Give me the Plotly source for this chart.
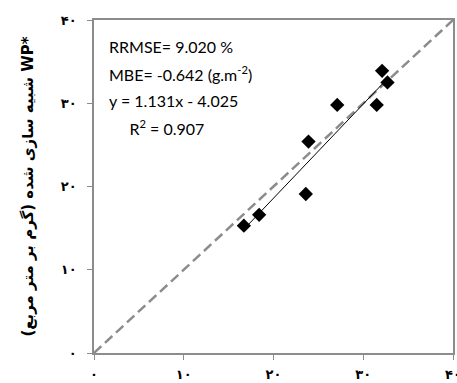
import plotly.graph_objects as go

obs_x = [16.7, 18.4, 23.6, 23.9, 27.1, 31.5, 32.1, 32.7]
sim_y = [15.3, 16.6, 19.1, 25.4, 29.8, 29.8, 33.9, 32.5]
fit_slope = 1.131
fit_intercept = -4.025
one_to_one = [0, 40]
tick_vals = [0, 10, 20, 30, 40]
tick_text = ["۰", "۱۰", "۲۰", "۳۰", "۴۰"]
y_title = "شبیه سازی شده (گرم بر متر مربع) WP*"
stats_lines = ["RRMSE= 9.020 %", "MBE= -0.642 (g.m<sup>-2</sup>)", "y = 1.131x - 4.025", "     R<sup>2</sup> = 0.907"]

fit_x = [min(obs_x), max(obs_x)]
fit_y = [fit_slope * v + fit_intercept for v in fit_x]

fig = go.Figure()
fig.add_trace(go.Scatter(x=one_to_one, y=one_to_one, mode="lines",
                         line=dict(color="#8c8c8c", width=2.5, dash="10px,5px"), hoverinfo="skip"))
fig.add_trace(go.Scatter(x=fit_x, y=fit_y, mode="lines",
                         line=dict(color="black", width=1), hoverinfo="skip"))
fig.add_trace(go.Scatter(x=obs_x, y=sim_y, mode="markers",
                         marker=dict(symbol="diamond", size=11, color="black")))

axis_common = dict(range=[0, 40], tickvals=tick_vals, ticktext=tick_text,
                   showgrid=False, zeroline=False, showline=True, linecolor="#8c8c8c",
                   linewidth=1.5, mirror=True, ticks="outside", ticklen=5,
                   tickcolor="#8c8c8c", tickwidth=1.2, ticklabeloverflow="allow",
                   tickfont=dict(family="DejaVu Sans", size=13, color="black", weight="bold"))

fig.update_layout(
    width=457, height=383,
    margin=dict(l=94, r=4, t=20, b=30),
    paper_bgcolor="white", plot_bgcolor="white",
    showlegend=False,
    xaxis=dict(**axis_common, ticklabelstandoff=4, automargin=False),
    yaxis=dict(**axis_common, ticklabelstandoff=8, automargin=False,
               title=dict(text=y_title, standoff=24,
                          font=dict(family="DejaVu Sans", size=15, color="black", weight="bold"))),
)

for i, line in enumerate(stats_lines):
    fig.add_annotation(x=0.035, y=0.92 - i * 0.081, xref="paper", yref="paper",
                       text=line, showarrow=False, xanchor="left", yanchor="middle",
                       font=dict(family="Lato", size=16, color="black"))

fig.write_html("out.html", config={"displayModeBar": False},
               post_script="document.body.style.margin='0';")
